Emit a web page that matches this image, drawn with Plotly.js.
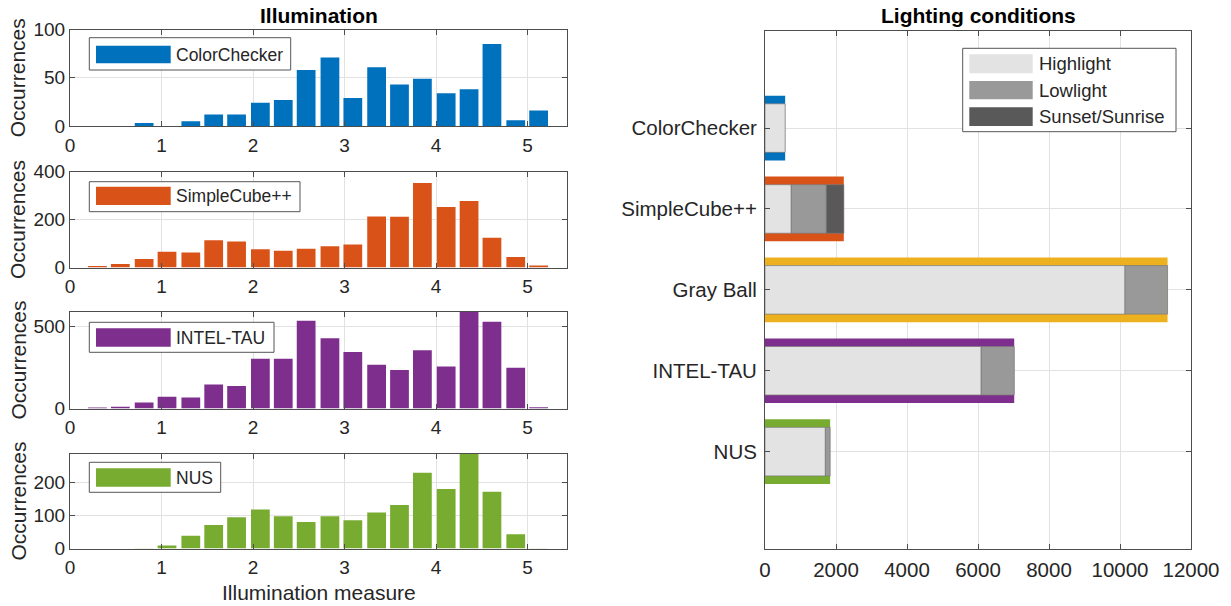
<!DOCTYPE html>
<html>
<head>
<meta charset="utf-8">
<script src="https://cdn.plot.ly/plotly-3.0.1.min.js"></script>
<style>html,body{margin:0;padding:0;background:#fff;}#chart{width:1231px;height:606px;}</style>
</head>
<body>
<div id="chart"></div>
<script>
// ---------- DATA ----------
const binCenters = [0.30,0.55,0.81,1.06,1.32,1.57,1.82,2.08,2.33,2.58,2.84,3.09,3.35,3.60,3.85,4.11,4.36,4.61,4.87,5.12];
const colorChecker = [0,0,3,0,5,12,12,24,27,58,71,29,61,43,49,34,38,85,6,16];
const simpleCube   = [6,15,35,66,63,114,108,76,70,78,89,96,213,211,352,252,277,124,44,8];
const intelTau     = [6,10,37,71,67,147,137,304,304,535,429,345,267,235,355,257,592,530,249,8];
const nus          = [0,0,1,9,39,71,95,118,98,80,98,86,109,132,230,180,288,172,43,1];
const histNames  = ['ColorChecker','SimpleCube++','INTEL-TAU','NUS'];
const histSeries = [colorChecker, simpleCube, intelTau, nus];
const histColors = ['#0072BD','#D95319','#7E2F8E','#77AC30'];
const histRanges = [[0,100],[0,400],[0,592],[0,288]];
const histTicks  = [[0,50,100],[0,200,400],[0,500],[0,100,200]];
const xTicks = [0,1,2,3,4,5];

const datasets   = ['ColorChecker','SimpleCube++','Gray Ball','INTEL-TAU','NUS'];
const datasetPos = [1,2,3,4,5];
const datasetColors = ['#0072BD','#D95319','#EDB120','#7E2F8E','#77AC30'];
const highlight = [568, 740, 10140, 6090, 1700];
const lowlight  = [0, 990, 1200, 930, 135];
const sunset    = [0, 490, 0, 0, 0];
const conditions = ['Highlight','Lowlight','Sunset/Sunrise'];
const conditionColors = ['#E3E3E3','#999999','#595959'];
const xTicksRight = [0,2000,4000,6000,8000,10000,12000];

// ---------- GEOMETRY HELPERS ----------
const W = 1231, H = 606;
const rx = p => p / W;
const ry = p => 1 - p / H;
const FONT = 'Liberation Sans, Arial, Helvetica, sans-serif';
const TXT = '#262626';
const LINE = '#4d4d4d';
const GRID = '#e2e2e2';

const panelPx = [[29.5,126],[171.5,267.5],[311.5,408.5],[453.5,548.5]];
const leftX = [70, 567];
const rightX = [765, 1191], rightY = [31, 548.7];

const traces = [];
const layout = {
  width: W, height: H,
  margin: {l:0, r:0, t:0, b:0},
  paper_bgcolor: '#fff', plot_bgcolor: '#fff',
  font: {family: FONT, color: TXT},
  showlegend: false,
  barmode: 'overlay',
  shapes: [], annotations: []
};

function axisCommon() {
  return {
    showgrid: true, gridcolor: GRID, gridwidth: 1,
    showline: true, linecolor: LINE, linewidth: 1, mirror: 'ticks',
    ticks: 'inside', ticklen: 5, tickcolor: LINE, tickwidth: 1,
    zeroline: false, fixedrange: true, automargin: false,
    tickfont: {family: FONT, size: 19, color: TXT}
  };
}

histSeries.forEach((vals, i) => {
  const k = i + 1;
  const xa = 'x' + (k === 1 ? '' : k), ya = 'y' + (k === 1 ? '' : k);
  traces.push({
    type: 'bar', x: binCenters, y: vals, width: 0.205,
    xaxis: xa, yaxis: ya,
    marker: {color: histColors[i], line: {width: 0}},
    name: histNames[i], hoverinfo: 'x+y'
  });
  const [top, bot] = panelPx[i];
  layout['xaxis' + (k === 1 ? '' : k)] = Object.assign(axisCommon(), {
    domain: [rx(leftX[0]), rx(leftX[1])], anchor: ya,
    range: [0, 5.43], tickvals: xTicks, ticktext: xTicks.map(String),
    ticklabelstandoff: 2
  });
  layout['yaxis' + (k === 1 ? '' : k)] = Object.assign(axisCommon(), {
    domain: [ry(bot), ry(top)], anchor: xa,
    range: histRanges[i], tickvals: histTicks[i], ticktext: histTicks[i].map(String)
  });
  // y label
  layout.annotations.push({
    xref: 'paper', yref: 'paper', x: rx(17.5), y: ry((top + bot) / 2),
    text: 'Occurrences', textangle: -90, showarrow: false,
    xanchor: 'center', yanchor: 'middle',
    font: {family: FONT, size: 21, color: TXT}
  });
});

// left legends (MATLAB-style boxes)
const leftLegend = [
  {box:[89.3,37.7,290.7,70],  sw:[96,45.7,170.7,63.3], ty:54.5},
  {box:[89.3,181.7,300,211.7], sw:[96,186.7,170.7,205], ty:196},
  {box:[89.3,322.3,274,352.3], sw:[96,328.3,170.7,346.7], ty:337.5},
  {box:[89.3,462.3,220.7,492.3], sw:[96,468.3,170.7,486.7], ty:477.5}
];
leftLegend.forEach((L, i) => {
  layout.shapes.push({type:'rect', xref:'paper', yref:'paper', layer:'above',
    x0: rx(L.box[0]), x1: rx(L.box[2]), y0: ry(L.box[3]), y1: ry(L.box[1]),
    fillcolor:'#fff', line:{color:'#555', width:1}});
  layout.shapes.push({type:'rect', xref:'paper', yref:'paper', layer:'above',
    x0: rx(L.sw[0]), x1: rx(L.sw[2]), y0: ry(L.sw[3]), y1: ry(L.sw[1]),
    fillcolor: histColors[i], line:{width:0}});
  layout.annotations.push({xref:'paper', yref:'paper', x: rx(174), y: ry(L.ty),
    text: histNames[i], showarrow:false, xanchor:'left', yanchor:'middle',
    font:{family:FONT, size:17.5, color:TXT}});
});

// x label & titles
layout.annotations.push({xref:'paper', yref:'paper', x: rx(318.5), y: ry(592),
  text:'Illumination measure', showarrow:false, xanchor:'center', yanchor:'middle',
  font:{family:FONT, size:21, color:TXT}});
layout.annotations.push({xref:'paper', yref:'paper', x: rx(318.5), y: ry(16),
  text:'Illumination', showarrow:false, xanchor:'center', yanchor:'middle',
  font:{family:FONT, size:21, color:'#000', weight:'bold'}});
layout.annotations.push({xref:'paper', yref:'paper', x: rx(978), y: ry(16),
  text:'Lighting conditions', showarrow:false, xanchor:'center', yanchor:'middle',
  font:{family:FONT, size:21, color:'#000', weight:'bold'}});

// ---------- RIGHT CHART ----------
const totals = highlight.map((h, i) => h + lowlight[i] + sunset[i]);
const nz = a => a.map(v => v === 0 ? null : v);
traces.push({type:'bar', orientation:'h', y: datasetPos, x: totals, base: datasetPos.map(() => 0),
  width: 0.8, xaxis:'x5', yaxis:'y5', marker:{color: datasetColors, line:{width:0}}, name:'Total'});
const hl = highlight, ll = lowlight, ss = sunset;
const bases = [hl.map(() => 0), hl.slice(), hl.map((h, i) => h + ll[i])];
[hl, ll, ss].forEach((vals, j) => {
  traces.push({type:'bar', orientation:'h', y: datasetPos, x: nz(vals), base: bases[j],
    width: 0.6, xaxis:'x5', yaxis:'y5',
    marker:{color: conditionColors[j], line:{width:0.7, color:'#7a7a7a'}}, name: conditions[j]});
});
layout.xaxis5 = Object.assign(axisCommon(), {
  domain: [rx(rightX[0]), rx(rightX[1])], anchor: 'y5',
  range: [0, 12000], tickvals: xTicksRight, ticktext: xTicksRight.map(String),
  tickfont: {family: FONT, size: 20.5, color: TXT}, ticklabelstandoff: 3
});
layout.yaxis5 = Object.assign(axisCommon(), {
  domain: [ry(rightY[1]), ry(rightY[0])], anchor: 'x5',
  range: [6.2, -0.2], tickvals: datasetPos, ticktext: datasets,
  tickfont: {family: FONT, size: 20.5, color: TXT}, ticklabelstandoff: 3
});

// right legend
const rl = {box:[962.7,48.3,1176,131.7], sx:[969.3,1032.7], rows:[[54.3,73.3],[81,99.3],[107.3,126]]};
layout.shapes.push({type:'rect', xref:'paper', yref:'paper', layer:'above',
  x0: rx(rl.box[0]), x1: rx(rl.box[2]), y0: ry(rl.box[3]), y1: ry(rl.box[1]),
  fillcolor:'#fff', line:{color:'#555', width:1}});
conditions.forEach((c, j) => {
  const r = rl.rows[j];
  layout.shapes.push({type:'rect', xref:'paper', yref:'paper', layer:'above',
    x0: rx(rl.sx[0]), x1: rx(rl.sx[1]), y0: ry(r[1]), y1: ry(r[0]),
    fillcolor: conditionColors[j], line:{width:0}});
  layout.annotations.push({xref:'paper', yref:'paper', x: rx(1036.5), y: ry((r[0] + r[1]) / 2),
    text: c, showarrow:false, xanchor:'left', yanchor:'middle',
    font:{family:FONT, size:18.5, color:TXT}});
});

Plotly.newPlot('chart', traces, layout, {displayModeBar:false, staticPlot:true});
</script>
</body>
</html>
